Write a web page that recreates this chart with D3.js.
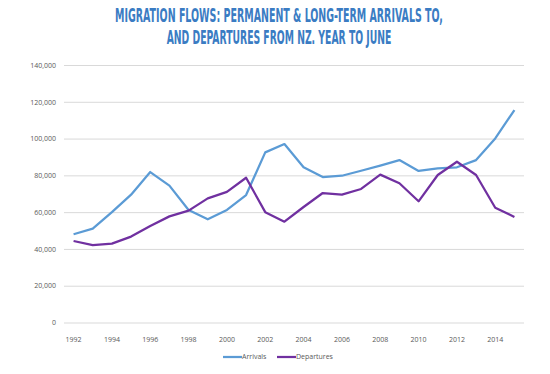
<!DOCTYPE html>
<html>
<head>
<meta charset="utf-8">
<script src="https://cdn.jsdelivr.net/npm/d3@7"></script>
<style>
  body { margin: 0; background: #fff; }
  svg { display: block; }
  .title { font-family: "Liberation Sans Narrow", "DejaVu Sans Condensed", sans-serif; font-weight: bold; fill: #3a7cc3; }
  .axis text, .legend text { font-family: "Open Sans", "DejaVu Sans", sans-serif; font-size: 7px; fill: #595959; }
</style>
</head>
<body>
<svg width="550" height="374"></svg>
<script>
const years = [1992, 1993, 1994, 1995, 1996, 1997, 1998, 1999, 2000, 2001, 2002, 2003,
  2004, 2005, 2006, 2007, 2008, 2009, 2010, 2011, 2012, 2013, 2014, 2015];
const arrivals = [48000, 51000, 60000, 69500, 81800, 74400, 61200, 56100, 61200, 69300, 92500, 97000,
  84400, 79100, 79800, 82500, 85300, 88300, 82400, 83800, 84400, 88300, 100100, 115500];
const departures = [44300, 42100, 42900, 46700, 52500, 57700, 60800, 67500, 71000, 78700, 60000, 54800,
  62800, 70400, 69500, 72600, 80400, 75700, 65900, 80200, 87400, 80200, 62400, 57400];
const yTicks = [0, 20000, 40000, 60000, 80000, 100000, 120000, 140000];
const titleLines = ["MIGRATION FLOWS: PERMANENT & LONG-TERM ARRIVALS TO,", "AND DEPARTURES FROM NZ. YEAR TO JUNE"];

const series = [
  {name: "Arrivals", values: arrivals, color: "#5b9bd5"},
  {name: "Departures", values: departures, color: "#7030a0"}
];

const svg = d3.select("svg"),
    margin = {left: 64, right: 26, top: 65, bottom: 51.5},
    width = +svg.attr("width"),
    height = +svg.attr("height");

const x = d3.scaleBand()
    .domain(years)
    .range([margin.left, width - margin.right]);

const y = d3.scaleLinear()
    .domain([0, 140000])
    .range([height - margin.bottom, margin.top]);

// title: squeeze each line horizontally to the reference's width
const titleWidths = [328, 225];
svg.selectAll("text.title")
  .data(titleLines)
  .enter().append("text")
    .attr("class", "title")
    .attr("text-anchor", "middle")
    .attr("font-size", 19)
    .text(d => d)
    .each(function(d, i) {
      const sx = Math.min(1, titleWidths[i] / this.getComputedTextLength());
      d3.select(this).attr("transform", `translate(279,${22 + i * 21.5}) scale(${sx},1)`);
    });

// gridlines + y labels
const yAxis = svg.append("g")
    .attr("class", "axis")
    .attr("transform", `translate(${margin.left},0)`)
    .call(d3.axisLeft(y)
      .tickValues(yTicks)
      .tickSize(-(width - margin.left - margin.right))
      .tickPadding(8)
      .tickFormat(d3.format(",")));
yAxis.select(".domain").remove();
yAxis.selectAll(".tick line").attr("stroke", "#d9d9d9").attr("stroke-width", 1);

// x labels
const xAxis = svg.append("g")
    .attr("class", "axis")
    .attr("transform", `translate(0,${height - margin.bottom})`)
    .call(d3.axisBottom(x)
      .tickValues(years.filter(d => d % 2 == 0))
      .tickSize(0)
      .tickPadding(15));
xAxis.select(".domain").remove();

const line = d3.line()
    .x((d, i) => x(years[i]) + x.bandwidth() / 2)
    .y(d => y(d));

svg.selectAll("path.series")
  .data(series)
  .enter().append("path")
    .attr("class", "series")
    .attr("fill", "none")
    .attr("stroke", d => d.color)
    .attr("stroke-width", 2.25)
    .attr("stroke-linejoin", "round")
    .attr("d", d => line(d.values));

// legend
const legend = svg.append("g")
    .attr("class", "legend")
    .attr("transform", "translate(223,357)");
const item = legend.selectAll("g")
  .data(series)
  .enter().append("g")
    .attr("transform", (d, i) => `translate(${i * 54},0)`);
item.append("line")
    .attr("x1", 0).attr("x2", 19)
    .attr("stroke", d => d.color)
    .attr("stroke-width", 2.25);
item.append("text")
    .attr("x", 19)
    .attr("dy", "0.35em")
    .text(d => d.name);
</script>
</body>
</html>
